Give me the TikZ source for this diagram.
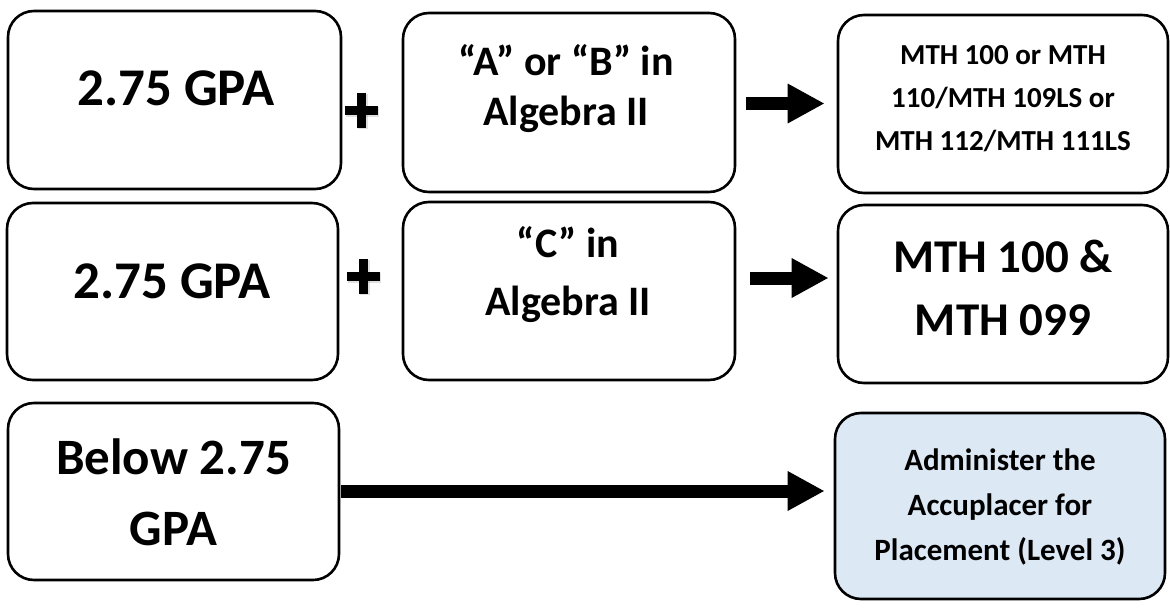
\documentclass[tikz,border=0pt]{standalone}
\usepackage{fontspec}
\setmainfont{Carlito}
\usetikzlibrary{arrows.meta}
\definecolor{boxblue}{HTML}{DDE8F5}
\begin{document}
\begin{tikzpicture}[x=1pt,y=-1pt,
  box/.style={draw=black, line width=2.6pt, rounded corners=26pt, fill=white, inner sep=0pt},
  lbl/.style={align=center, inner sep=0pt, anchor=base},
  bigarrow/.style={line width=13pt, -{Triangle[length=37pt,width=37pt]}},
  plusbar/.style={line width=9pt},
  plusshadow/.style={line width=10pt, black, opacity=0.12}
]
\useasboundingbox (0,0) rectangle (1170,608);
% boxes
\node[box, minimum width=333pt, minimum height=178pt] (a1) at (174.5,100) {};
\node[box, minimum width=332pt, minimum height=179pt] (b1) at (569,102.5) {};
\node[box, minimum width=330pt, minimum height=178pt] (c1) at (1003,104) {};
\node[box, minimum width=331pt, minimum height=177pt] (a2) at (172.5,291.5) {};
\node[box, minimum width=332pt, minimum height=178pt] (b2) at (569,291) {};
\node[box, minimum width=330pt, minimum height=178pt] (c2) at (1003,294) {};
\node[box, minimum width=331pt, minimum height=177pt] (a3) at (173.5,491.5) {};
\node[box, fill=boxblue, minimum width=330pt, minimum height=186pt] (c3) at (1000,506) {};
% texts (anchor = baseline of the last line)
\node[lbl, font=\fontsize{53pt}{64pt}\selectfont\bfseries] (a1t) at (176,105) {2.75 GPA};
\node[lbl, font=\fontsize{53pt}{64pt}\selectfont\bfseries] (a2t) at (172,298) {2.75 GPA};
\node[lbl, font=\fontsize{51pt}{71pt}\selectfont\bfseries] (a3t) at (173.5,545) {Below 2.75\\GPA};
\node[lbl, font=\fontsize{42pt}{50pt}\selectfont\bfseries] (b1t) at (566,125) {“A” or “B” in\\Algebra II};
\node[lbl, font=\fontsize{42pt}{58pt}\selectfont\bfseries] (b2t) at (568,315) {“C” in\\Algebra II};
\node[lbl, font=\fontsize{29pt}{43pt}\selectfont\bfseries] (c1t) at (1003,150) {MTH 100 or MTH\\110/MTH 109LS or\\MTH 112/MTH 111LS};
\node[lbl, font=\fontsize{47pt}{63pt}\selectfont\bfseries] (c2t) at (1003,335) {MTH 100 \&\\MTH 099};
\node[lbl, font=\fontsize{31pt}{45pt}\selectfont\bfseries] (c3t) at (1000,560) {Administer the\\Accuplacer for\\Placement (Level 3)};
% arrows
\draw[bigarrow] ([shift={(10,1)}]b1.east) -- ([shift={(-12,-0.5)}]c1.west);
\draw[bigarrow] ([shift={(14,-13)}]b2.east) -- ([shift={(-8,-16)}]c2.west);
\draw[bigarrow] ([shift={(1,-0.5)}]a3.east) -- ([shift={(-9,-15)}]c3.west);
% plus signs
\foreach \cx/\cy in {361/110, 363/276}{
  \draw[plusshadow] (\cx+1.5-16.5,\cy+1.5) -- (\cx+1.5+16.5,\cy+1.5);
  \draw[plusshadow] (\cx+1.5,\cy+1.5-17.5) -- (\cx+1.5,\cy+1.5+17.5);
  \draw[plusbar] (\cx-16.5,\cy) -- (\cx+16.5,\cy);
  \draw[plusbar] (\cx,\cy-17.5) -- (\cx,\cy+17.5);
}
\end{tikzpicture}
\end{document}
